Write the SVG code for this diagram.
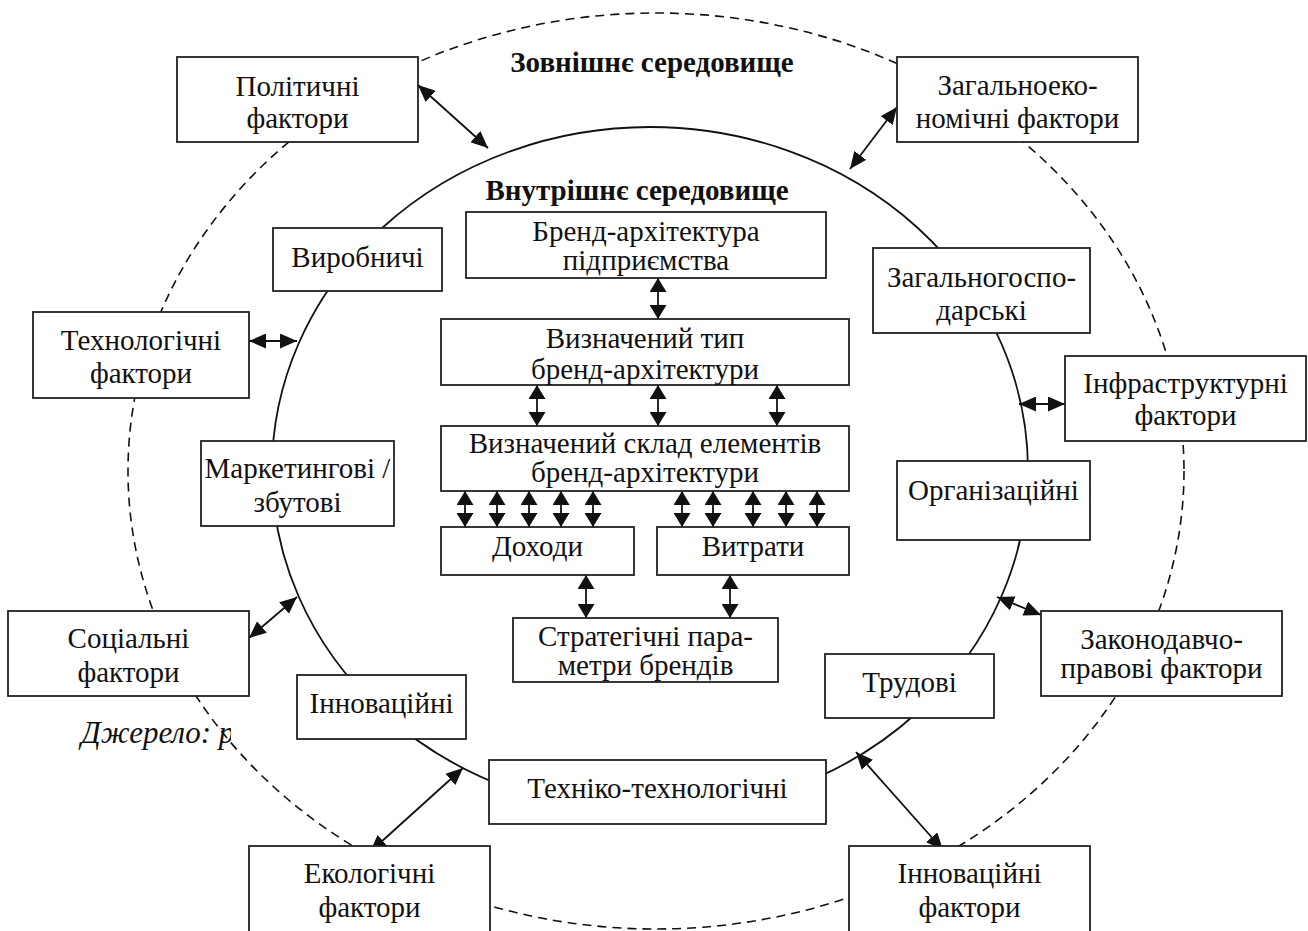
<svg xmlns="http://www.w3.org/2000/svg" width="1308" height="931" viewBox="0 0 1308 931">
<style>
text{font-family:"Liberation Serif","Times New Roman",serif;font-size:29px;fill:#111;text-anchor:middle}
.hdr{font-weight:bold}
.box{fill:#fff;stroke:#222;stroke-width:1.8}
.ln{stroke:#111;stroke-width:1.8;fill:none}
.a{marker-start:url(#ma);marker-end:url(#ma)}
.b{marker-start:url(#mb);marker-end:url(#mb)}
</style>
<defs>
<marker id="ma" markerUnits="userSpaceOnUse" markerWidth="18" markerHeight="15" refX="17" refY="7.5" orient="auto-start-reverse"><path d="M0,0 L17,7.5 L0,15 z" fill="#111"/></marker>
<marker id="mb" markerUnits="userSpaceOnUse" markerWidth="15" markerHeight="17" refX="14" refY="8.5" orient="auto-start-reverse"><path d="M0,0 L14,8.5 L0,17 z" fill="#111"/></marker>
<clipPath id="srcclip"><rect x="0" y="690" width="231" height="70"/></clipPath>
</defs>
<rect width="1308" height="931" fill="#fff"/>
<ellipse cx="656" cy="471" rx="528" ry="458" fill="#fff" stroke="#111" stroke-width="1.6" stroke-dasharray="9 6"/>
<ellipse cx="650" cy="470" rx="378" ry="343" fill="none" stroke="#111" stroke-width="1.8"/>
<text x="81" y="743" clip-path="url(#srcclip)" style="font-style:italic;text-anchor:start;font-size:31px">Джерело: р</text>
<text class="hdr" x="652" y="72">Зовнішнє середовище</text>
<text class="hdr" x="637" y="200">Внутрішнє середовище</text>

<g id="connectors">
<line class="ln a" x1="418" y1="85" x2="488" y2="148"/>
<line class="ln a" x1="897" y1="107" x2="850" y2="169"/>
<line class="ln a" x1="249" y1="341" x2="297" y2="341"/>
<line class="ln a" x1="1019" y1="404" x2="1065" y2="404"/>
<line class="ln a" x1="249" y1="638" x2="297" y2="597"/>
<line class="ln a" x1="997" y1="597" x2="1041" y2="615"/>
<line class="ln a" x1="370" y1="852" x2="463" y2="768"/>
<line class="ln a" x1="856" y1="752" x2="943" y2="850"/>
<line class="ln b" x1="658" y1="278" x2="658" y2="319"/>
<line class="ln b" x1="537" y1="385" x2="537" y2="426"/>
<line class="ln b" x1="658" y1="385" x2="658" y2="426"/>
<line class="ln b" x1="777" y1="385" x2="777" y2="426"/>
<line class="ln b" x1="465" y1="491" x2="465" y2="527"/>
<line class="ln b" x1="497" y1="491" x2="497" y2="527"/>
<line class="ln b" x1="529" y1="491" x2="529" y2="527"/>
<line class="ln b" x1="561" y1="491" x2="561" y2="527"/>
<line class="ln b" x1="593" y1="491" x2="593" y2="527"/>
<line class="ln b" x1="682" y1="491" x2="682" y2="527"/>
<line class="ln b" x1="713" y1="491" x2="713" y2="527"/>
<line class="ln b" x1="753" y1="491" x2="753" y2="527"/>
<line class="ln b" x1="786" y1="491" x2="786" y2="527"/>
<line class="ln b" x1="817" y1="491" x2="817" y2="527"/>
<line class="ln b" x1="586" y1="575" x2="586" y2="618"/>
<line class="ln b" x1="730" y1="575" x2="730" y2="618"/>
</g>

<g id="pol"><rect class="box" x="177" y="57" width="241" height="85"/><text x="297.5" y="96">Політичні</text><text x="297.5" y="128">фактори</text></g>
<g id="zek"><rect class="box" x="897" y="57" width="241" height="85"/><text x="1017.5" y="95">Загальноеко-</text><text x="1017.5" y="128">номічні фактори</text></g>
<g id="tech"><rect class="box" x="33" y="312" width="216" height="86"/><text x="141" y="350">Технологічні</text><text x="141" y="383">фактори</text></g>
<g id="infra"><rect class="box" x="1065" y="356" width="241" height="85"/><text x="1185.5" y="393">Інфраструктурні</text><text x="1185.5" y="425">фактори</text></g>
<g id="soc"><rect class="box" x="8" y="611" width="241" height="85"/><text x="128.5" y="648">Соціальні</text><text x="128.5" y="682">фактори</text></g>
<g id="zak"><rect class="box" x="1041" y="611" width="241" height="85"/><text x="1161.5" y="649">Законодавчо-</text><text x="1161.5" y="678">правові фактори</text></g>
<g id="eko"><rect class="box" x="249" y="846" width="241" height="95"/><text x="369.5" y="883">Екологічні</text><text x="369.5" y="917">фактори</text></g>
<g id="innf"><rect class="box" x="849" y="846" width="241" height="95"/><text x="969.5" y="883">Інноваційні</text><text x="969.5" y="917">фактори</text></g>

<g id="vyr"><rect class="box" x="273" y="228" width="169" height="63"/><text x="357.5" y="267">Виробничі</text></g>
<g id="mark"><rect class="box" x="201" y="441" width="193" height="85"/><text x="297.5" y="478">Маркетингові /</text><text x="297.5" y="512">збутові</text></g>
<g id="innov"><rect class="box" x="297" y="675" width="169" height="64"/><text x="381.5" y="713">Інноваційні</text></g>
<g id="tekh"><rect class="box" x="489" y="760" width="337" height="64"/><text x="657.5" y="798">Техніко-технологічні</text></g>
<g id="trud"><rect class="box" x="825" y="654" width="169" height="64"/><text x="909.5" y="692">Трудові</text></g>
<g id="org"><rect class="box" x="897" y="461" width="193" height="79"/><text x="993.5" y="500">Організаційні</text></g>
<g id="zgos"><rect class="box" x="873" y="248" width="217" height="85"/><text x="981.5" y="287">Загальногоспо-</text><text x="981.5" y="320">дарські</text></g>

<g id="brand"><rect class="box" x="466" y="212" width="360" height="66"/><text x="646" y="241">Бренд-архітектура</text><text x="646" y="270">підприємства</text></g>
<g id="typ"><rect class="box" x="441" y="319" width="408" height="66"/><text x="645" y="348">Визначений тип</text><text x="645" y="379">бренд-архітектури</text></g>
<g id="sklad"><rect class="box" x="441" y="426" width="408" height="65"/><text x="645" y="453">Визначений склад елементів</text><text x="645" y="482">бренд-архітектури</text></g>
<g id="doh"><rect class="box" x="441" y="527" width="193" height="48"/><text x="537.5" y="556">Доходи</text></g>
<g id="vytr"><rect class="box" x="657" y="527" width="192" height="48"/><text x="753" y="556">Витрати</text></g>
<g id="strat"><rect class="box" x="513" y="618" width="265" height="64"/><text x="645.5" y="646">Стратегічні пара-</text><text x="645.5" y="675">метри брендів</text></g>
</svg>
